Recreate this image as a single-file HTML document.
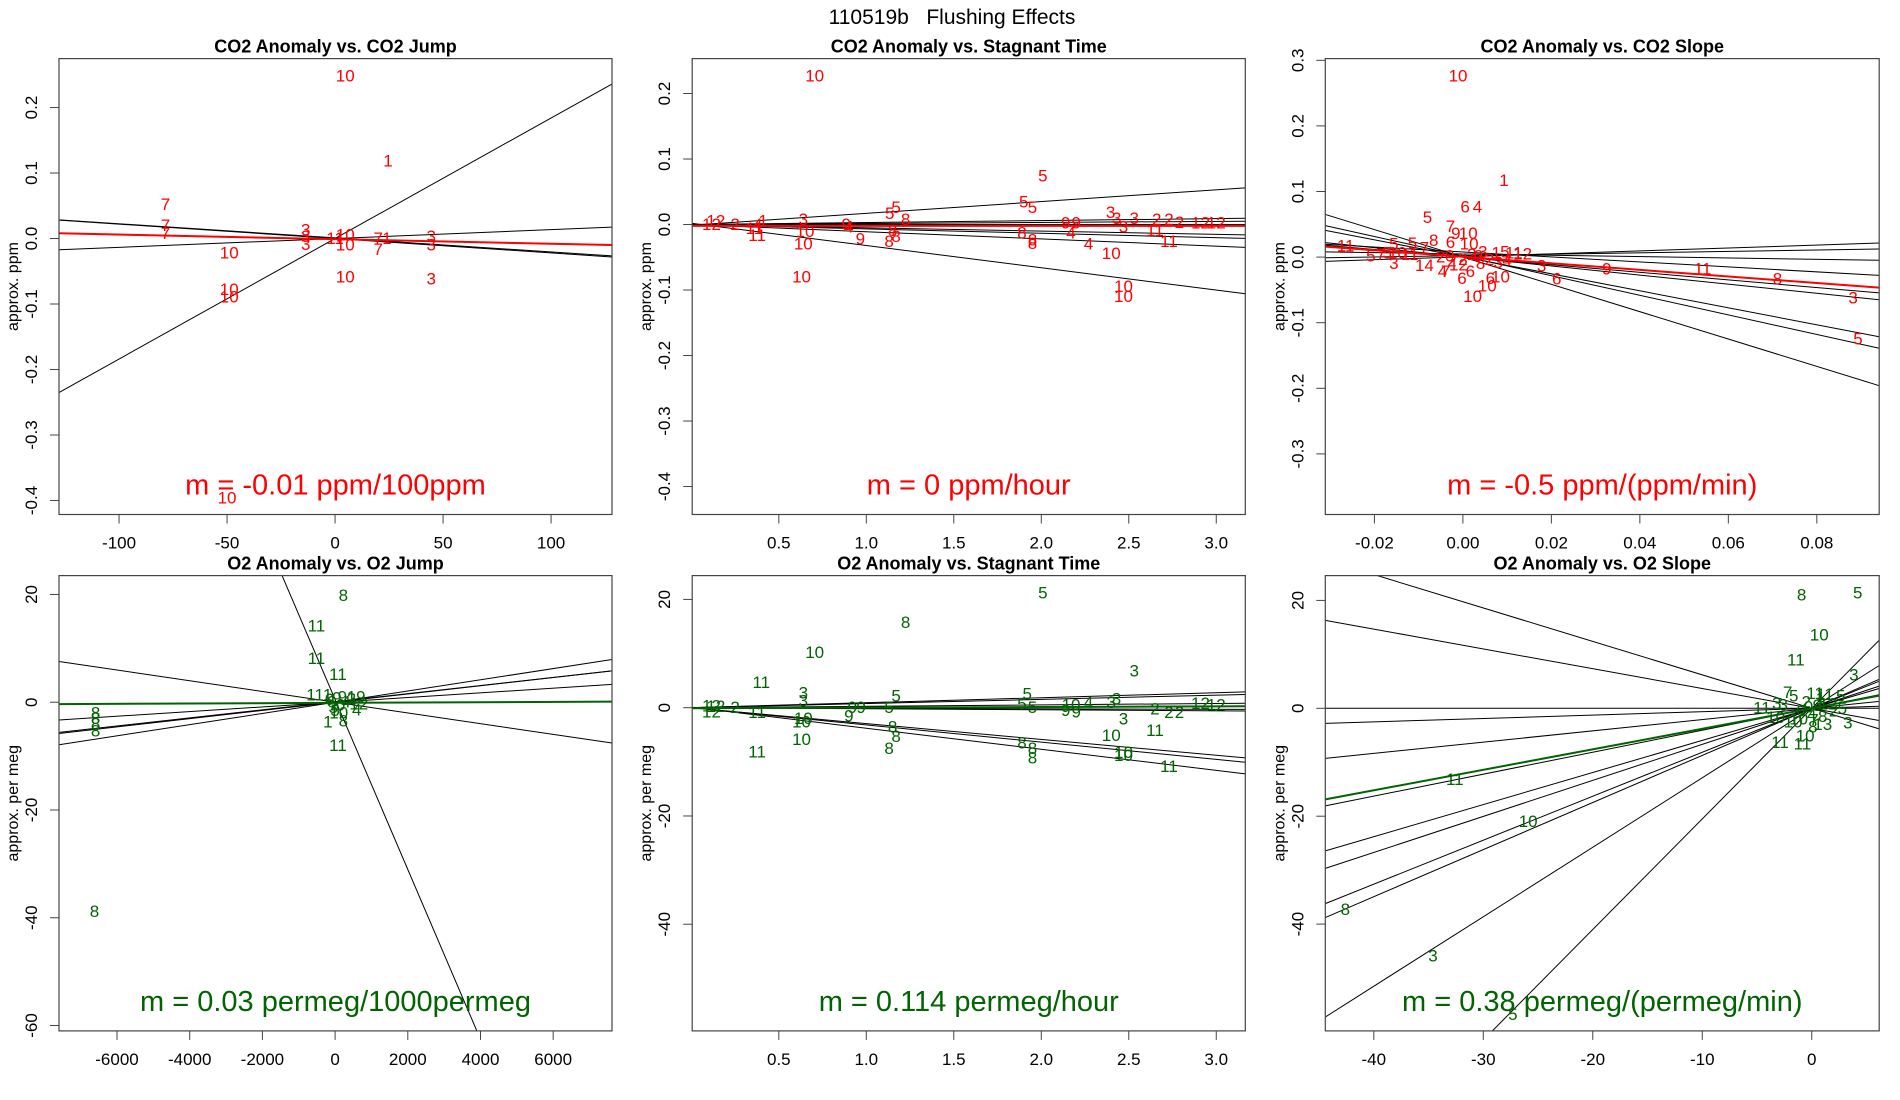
<!DOCTYPE html>
<html><head><meta charset="utf-8">
<style>
html,body{margin:0;padding:0;background:#fff;width:1900px;height:1100px;overflow:hidden;}
svg{display:block;font-family:"Liberation Sans",Arial,sans-serif;}
</style></head>
<body>
<svg id="chart" width="1900" height="1100" viewBox="0 0 1900 1100">
<rect x="0" y="0" width="1900" height="1100" fill="#fff"/>
<text x="952" y="24" text-anchor="middle" font-size="21" fill="#000">110519b&#160;&#160;&#160;Flushing Effects</text>
</svg>
<script>
// ---- Panel 1: CO2 Anomaly vs CO2 Jump ----
const p1X = [4.7,24.5,-78.5,-78.5,-78.5,-13.6,-13.6,-13.6,0,4.7,4.7,20,24,20,44.5,44.5,-49,-49,-49,4.7,44.5,-50];
const p1Y = [0.248,0.118,0.052,0.02,0.008,0.013,0.003,-0.009,0,0.005,-0.01,0,0,-0.017,0.003,-0.01,-0.022,-0.078,-0.089,-0.059,-0.062,-0.396];
const p1L = ['10','1','7','7','7','3','3','3','11','10','10','7','1','7','3','3','10','10','10','10','3','10'];
const p1Slopes = [0.00184,-0.00022,-0.000215,0.000135];
const p1Ints = [0,0,0.001,0];
const p1Fit = [-0.00007,-0.001];
const p1XTicks = [-100,-50,0,50,100];
const p1XTickLabels = ['-100','-50','0','50','100'];
const p1YTicks = [0.2,0.1,0,-0.1,-0.2,-0.3,-0.4];
const p1YTickLabels = ['0.2','0.1','0.0','-0.1','-0.2','-0.3','-0.4'];

// ---- Panel 2: CO2 Anomaly vs Stagnant Time ----
const p2X = [0.705,2.009,1.90,1.95,1.134,1.17,1.225,2.396,2.431,2.531,2.47,2.66,2.73,2.79,2.91,3.0,2.65,2.73,2.27,2.17,2.40,2.47,2.47,1.89,1.95,1.95,2.14,2.20,1.13,1.17,1.15,0.966,0.64,0.63,0.65,0.376,0.64,0.41,0.25,0.115,0.14,0.885,0.90,0.38,0.36];
const p2Y = [0.2266,0.074,0.034,0.026,0.017,0.026,0.008,0.018,0.009,0.009,-0.004,0.008,0.008,0.003,0.002,0.002,-0.009,-0.026,-0.0295,-0.013,-0.044,-0.095,-0.110,-0.013,-0.024,-0.029,0.002,0.002,-0.026,-0.018,-0.009,-0.022,-0.030,-0.080,-0.011,-0.017,0.008,0.005,0.0,0.0,0.005,0.0,-0.004,0.0,-0.006];
const p2L = ['10','5','5','5','5','5','8','3','3','3','3','2','2','2','12','12','11','11','4','4','10','10','10','8','8','8','9','9','8','8','8','9','10','10','10','11','3','1','2','12','12','9','4','4','11'];
const p2Slopes = [0.018,-0.034,-0.011,-0.0067,-0.005,0.003,0.0016,0];
const p2Ints = [-0.001,0.002,0,0,0,0,0,0];
const p2Fit = [0,-0.002];
const p2XTicks = [0.5,1,1.5,2,2.5,3];
const p2XTickLabels = ['0.5','1.0','1.5','2.0','2.5','3.0'];
const p2YTicks = [0.2,0.1,0,-0.1,-0.2,-0.3,-0.4];
const p2YTickLabels = ['0.2','0.1','0.0','-0.1','-0.2','-0.3','-0.4'];

// ---- Panel 3: CO2 Anomaly vs CO2 Slope ----
const p3X = [-0.0011,0.0093,0.0005,0.0033,-0.008,-0.0028,-0.0016,0.0012,-0.0066,-0.0028,0.0014,-0.0265,-0.0156,-0.0114,-0.0087,-0.0208,-0.0185,-0.0171,-0.0148,-0.0156,-0.0087,-0.0046,-0.0039,-0.0002,0.0017,0.0062,0.0085,0.0055,0.0022,0.0178,0.0325,0.0212,0.0542,0.0711,0.0882,0.0893,0.002,0.0045,0.0075,0.0095,0.0115,0.0135,0.010,0.008,-0.003,0.0,-0.001,-0.0025,0.0035,0.006,0.004,-0.012,-0.005];
const p3Y = [0.276,0.1166,0.0764,0.0764,0.060,0.047,0.036,0.036,0.0256,0.022,0.020,0.0166,0.020,0.021,0.014,0.002,0.004,0.006,0.006,-0.010,-0.0125,-0.022,-0.022,-0.033,-0.022,-0.033,-0.030,-0.044,-0.060,-0.0135,-0.0185,-0.0335,-0.0185,-0.0335,-0.0625,-0.125,0.004,0.008,0.006,0.008,0.006,0.005,-0.005,-0.008,0.002,-0.004,-0.012,-0.006,0.002,-0.004,-0.01,0.004,0.0];
const p3L = ['10','1','6','4','5','7','9','10','8','6','10','11','5','5','7','5','7','5','10','3','14','4','7','6','6','6','10','10','10','3','9','6','11','8','3','5','2','3','1','5','11','12','4','3','0','2','12','2','0','2','8','11','2'];
const p3Slopes = [-2.085,-1.493,-1.295,-0.695,-0.58,-0.379,-0.102,0.106,0.223];
const p3Ints = [0.0002,0.0015,0.0004,0.0004,0.0,0.0078,0.0048,0.0023,0.0005];
const p3Fit = [-0.5,0.0005];
const p3XTicks = [-0.02,0,0.02,0.04,0.06,0.08];
const p3XTickLabels = ['-0.02','0.00','0.02','0.04','0.06','0.08'];
const p3YTicks = [0.3,0.2,0.1,0,-0.1,-0.2,-0.3];
const p3YTickLabels = ['0.3','0.2','0.1','0.0','-0.1','-0.2','-0.3'];

// ---- Panel 4: O2 Anomaly vs O2 Jump ----
const p4X = [228,-514,-514,80,-550,-206,-200,228,80,-6590,-6590,-6590,-6590,-6620,594,580,-150,-50,50,150,300,450,650,0,100,-100,200];
const p4Y = [19.8,14.1,8.1,5.1,1.35,1.35,-3.7,-3.5,-8.0,-2.0,-3.0,-4.0,-5.3,-38.8,-1.4,1.0,0.5,-1,0.8,-0.5,0,0.6,-0.3,-1.5,-2,0,1];
const p4L = ['8','11','11','11','11','1','1','8','11','8','8','8','8','8','4','19','0','3','9','0','4','2','12','5','10','6','9'];
const p4Slopes = [-0.01577,-0.000995,0.00104,0.000763,0.00075,0.000434];
const p4Ints = [0.5,0,0,0,0.1,0];
const p4Fit = [0.00003,-0.12];
const p4XTicks = [-6000,-4000,-2000,0,2000,4000,6000];
const p4XTickLabels = ['-6000','-4000','-2000','0','2000','4000','6000'];
const p4YTicks = [20,0,-20,-40,-60];
const p4YTickLabels = ['20','0','-20','-40','-60'];

// ---- Panel 5: O2 Anomaly vs Stagnant Time ----
const p5X = [2.009,1.225,0.705,2.531,0.40,0.64,0.64,1.17,1.13,1.92,1.89,1.95,2.43,2.40,2.27,2.17,2.14,2.2,2.47,2.65,2.40,2.47,2.47,2.73,1.89,1.95,1.95,1.15,1.17,1.13,0.63,0.376,0.64,0.63,0.376,0.92,0.97,2.65,2.73,2.79,2.91,3.0,0.115,0.115,0.25,0.14,0.9];
const p5Y = [21.2,15.7,10.2,6.8,4.65,2.7,1.2,2.2,0,2.5,0.7,0,1.6,1.0,1.0,0.5,-0.5,-0.8,-2.1,-4.2,-5.1,-8.3,-8.8,-10.9,-6.5,-7.5,-9.3,-3.6,-5.3,-7.5,-5.9,-8.2,-2.0,-2.6,-0.9,0,0,-0.2,-0.9,-0.9,0.8,0.5,0.3,-0.8,0,0.2,-1.5];
const p5L = ['5','8','10','3','11','3','3','5','5','5','5','5','3','3','4','10','9','9','3','11','10','10','10','11','8','8','8','8','8','8','10','11','10','10','11','9','9','2','2','2','12','12','12','12','2','12','9'];
const p5Slopes = [-3.89,-3.18,-2.93,0.92,0.77,0.26,-0.1,-0.19];
const p5Ints = [0.1,0,0,0,0,0,0,0];
const p5Fit = [0.114,-0.1];
const p5XTicks = [0.5,1,1.5,2,2.5,3];
const p5XTickLabels = ['0.5','1.0','1.5','2.0','2.5','3.0'];
const p5YTicks = [20,0,-20,-40];
const p5YTickLabels = ['20','0','-20','-40'];

// ---- Panel 6: O2 Anomaly vs O2 Slope ----
const p6X = [-0.93,4.2,0.68,-1.45,3.85,-2.2,-1.65,-4.55,-3.2,-2.6,0.3,1.2,2.65,2.8,3.3,1.0,0.1,-1.7,-3.3,-0.6,-2.9,-0.85,-32.6,-25.9,-42.6,-34.6,-27.3,-0.5,0.5,1.5,-1,0,1,-0.3,0.8,2,-1.2,0.2];
const p6Y = [21.0,21.4,13.6,9.0,6.2,2.9,2.3,0.1,0.9,0.6,2.7,2.6,2.3,0,-2.7,-3.0,-3.5,-2.5,-1.7,-5.1,-6.3,-6.6,-13.2,-21.0,-37.3,-45.9,-56.8,1.2,0.5,0.8,-0.5,-1.2,-1.5,0.2,1.8,-0.5,-2,-2.2];
const p6L = ['8','5','10','11','3','7','5','11','3','3','11','11','5','5','3','13','8','10','10','10','11','11','11','10','8','3','5','2','9','12','6','4','8','0','1','2','10','7'];
const p6Slopes = [-0.62,-0.367,0,0.063,0.209,0.407,0.595,0.668,0.815,0.873,1.288,2.05];
const p6Ints = [0,0,0,0,0,0,0,0,0,0,0,0];
const p6Fit = [0.38,0];
const p6XTicks = [-40,-30,-20,-10,0];
const p6XTickLabels = ['-40','-30','-20','-10','0'];
const p6YTicks = [20,0,-20,-40];
const p6YTickLabels = ['20','0','-20','-40'];

const NS = 'http://www.w3.org/2000/svg';
const svg = document.getElementById('chart');
function mk(tag, attrs, parent){
  const e = document.createElementNS(NS, tag);
  for (const k in attrs) e.setAttribute(k, attrs[k]);
  (parent||svg).appendChild(e);
  return e;
}
const RED = '#ff0000', GREEN = '#006400';

function panel(cfg){
  const {id, box, xdom, ydom, title, ylab, mtext, color, X, Y, L, slopes, ints, fit, xt, xtl, yt, ytl} = cfg;
  const [L0,T0,R0,B0] = box;
  const sx = v => L0 + (v - xdom[0]) / (xdom[1] - xdom[0]) * (R0 - L0);
  const sy = v => T0 + (v - ydom[0]) / (ydom[1] - ydom[0]) * (B0 - T0);
  const g = mk('g', {});
  
  
  const cp = mk('clipPath', {id: id + '-clip'}, g);
  mk('rect', {x: L0, y: T0, width: R0 - L0, height: B0 - T0}, cp);

  const t = mk('text', {x: (L0 + R0) / 2, y: T0 - 6, 'text-anchor': 'middle', 'font-size': 18, 'font-weight': 'bold'}, g);
  t.textContent = title;
  
  

  const yl = mk('text', {x: 0, y: 0, 'text-anchor': 'middle', 'font-size': 16, transform: `translate(${L0 - 41},${(T0 + B0) / 2}) rotate(-90)`}, g);
  yl.textContent = ylab;
  
  

  const lg = mk('g', {'clip-path': `url(#${id}-clip)`}, g);
  
  
  for (let i = 0; i < slopes.length; i++){
    const ln = mk('line', {x1: sx(xdom[0]), y1: sy(slopes[i] * xdom[0] + ints[i]), x2: sx(xdom[1]), y2: sy(slopes[i] * xdom[1] + ints[i]), stroke: '#000', 'stroke-width': 1}, lg);
    
    
  }
  const pg = mk('g', {'clip-path': `url(#${id}-clip)`, fill: color, 'font-size': 17, 'text-anchor': 'middle', 'dominant-baseline': 'central'}, g);
  
  
  for (let i = 0; i < X.length; i++){
    const p = mk('text', {x: sx(X[i]), y: sy(Y[i])}, pg);
    p.textContent = L[i];
    
    
  }
  const fl = mk('line', {x1: sx(xdom[0]), y1: sy(fit[0] * xdom[0] + fit[1]), x2: sx(xdom[1]), y2: sy(fit[0] * xdom[1] + fit[1]), stroke: color, 'stroke-width': 2, 'clip-path': `url(#${id}-clip)`}, g);
  
  

  const mt = mk('text', {x: (L0 + R0) / 2, y: B0 - 20, 'text-anchor': 'middle', 'font-size': 29, fill: color}, g);
  mt.textContent = mtext;
  
  

  const bx = mk('rect', {x: L0, y: T0, width: R0 - L0, height: B0 - T0, fill: 'none', stroke: '#444', 'stroke-width': 1.2}, g);
  
  

  const xa = mk('g', {}, g);
  
  
  for (let i = 0; i < xt.length; i++){
    const x = sx(xt[i]);
    mk('line', {x1: x, y1: B0, x2: x, y2: B0 + 9, stroke: '#444'}, xa);
    const tl = mk('text', {x: x, y: B0 + 34, 'text-anchor': 'middle', 'font-size': 17}, xa);
    tl.textContent = xtl[i];
    
    
  }
  const ya = mk('g', {}, g);
  
  
  for (let i = 0; i < yt.length; i++){
    const y = sy(yt[i]);
    mk('line', {x1: L0, y1: y, x2: L0 - 9, y2: y, stroke: '#444'}, ya);
    const tl = mk('text', {x: 0, y: 0, 'text-anchor': 'middle', 'font-size': 17, transform: `translate(${L0 - 22},${y}) rotate(-90)`}, ya);
    tl.textContent = ytl[i];
    
    
  }
}

panel({id:'co2-jump', box:[59,58.6,612,514.5], xdom:[-127.8,128.2], ydom:[0.2747,-0.4214], title:'CO2 Anomaly vs. CO2 Jump', ylab:'approx. ppm', mtext:'m = -0.01 ppm/100ppm', color:RED, X:p1X, Y:p1Y, L:p1L, slopes:p1Slopes, ints:p1Ints, fit:p1Fit, xt:p1XTicks, xtl:p1XTickLabels, yt:p1YTicks, ytl:p1YTickLabels});
panel({id:'co2-stagnant', box:[692.2,58.6,1245.3,514.5], xdom:[0.005,3.166], ydom:[0.2533,-0.4427], title:'CO2 Anomaly vs. Stagnant Time', ylab:'approx. ppm', mtext:'m = 0 ppm/hour', color:RED, X:p2X, Y:p2Y, L:p2L, slopes:p2Slopes, ints:p2Ints, fit:p2Fit, xt:p2XTicks, xtl:p2XTickLabels, yt:p2YTicks, ytl:p2YTickLabels});
panel({id:'co2-slope', box:[1325.3,58.6,1879.2,514.5], xdom:[-0.0311,0.0941], ydom:[0.3026,-0.3924], title:'CO2 Anomaly vs. CO2 Slope', ylab:'approx. ppm', mtext:'m = -0.5 ppm/(ppm/min)', color:RED, X:p3X, Y:p3Y, L:p3L, slopes:p3Slopes, ints:p3Ints, fit:p3Fit, xt:p3XTicks, xtl:p3XTickLabels, yt:p3YTicks, ytl:p3YTickLabels});
panel({id:'o2-jump', box:[59,575.6,612,1030.9], xdom:[-7596,7618], ydom:[23.5,-61.0], title:'O2 Anomaly vs. O2 Jump', ylab:'approx. per meg', mtext:'m = 0.03 permeg/1000permeg', color:GREEN, X:p4X, Y:p4Y, L:p4L, slopes:p4Slopes, ints:p4Ints, fit:p4Fit, xt:p4XTicks, xtl:p4XTickLabels, yt:p4YTicks, ytl:p4YTickLabels});
panel({id:'o2-stagnant', box:[692.2,575.6,1245.3,1030.9], xdom:[0.005,3.166], ydom:[24.4,-59.7], title:'O2 Anomaly vs. Stagnant Time', ylab:'approx. per meg', mtext:'m = 0.114 permeg/hour', color:GREEN, X:p5X, Y:p5Y, L:p5L, slopes:p5Slopes, ints:p5Ints, fit:p5Fit, xt:p5XTicks, xtl:p5XTickLabels, yt:p5YTicks, ytl:p5YTickLabels});
panel({id:'o2-slope', box:[1325.3,575.6,1879.2,1030.9], xdom:[-44.43,6.16], ydom:[24.6,-59.8], title:'O2 Anomaly vs. O2 Slope', ylab:'approx. per meg', mtext:'m = 0.38 permeg/(permeg/min)', color:GREEN, X:p6X, Y:p6Y, L:p6L, slopes:p6Slopes, ints:p6Ints, fit:p6Fit, xt:p6XTicks, xtl:p6XTickLabels, yt:p6YTicks, ytl:p6YTickLabels});
</script>
</body></html>
